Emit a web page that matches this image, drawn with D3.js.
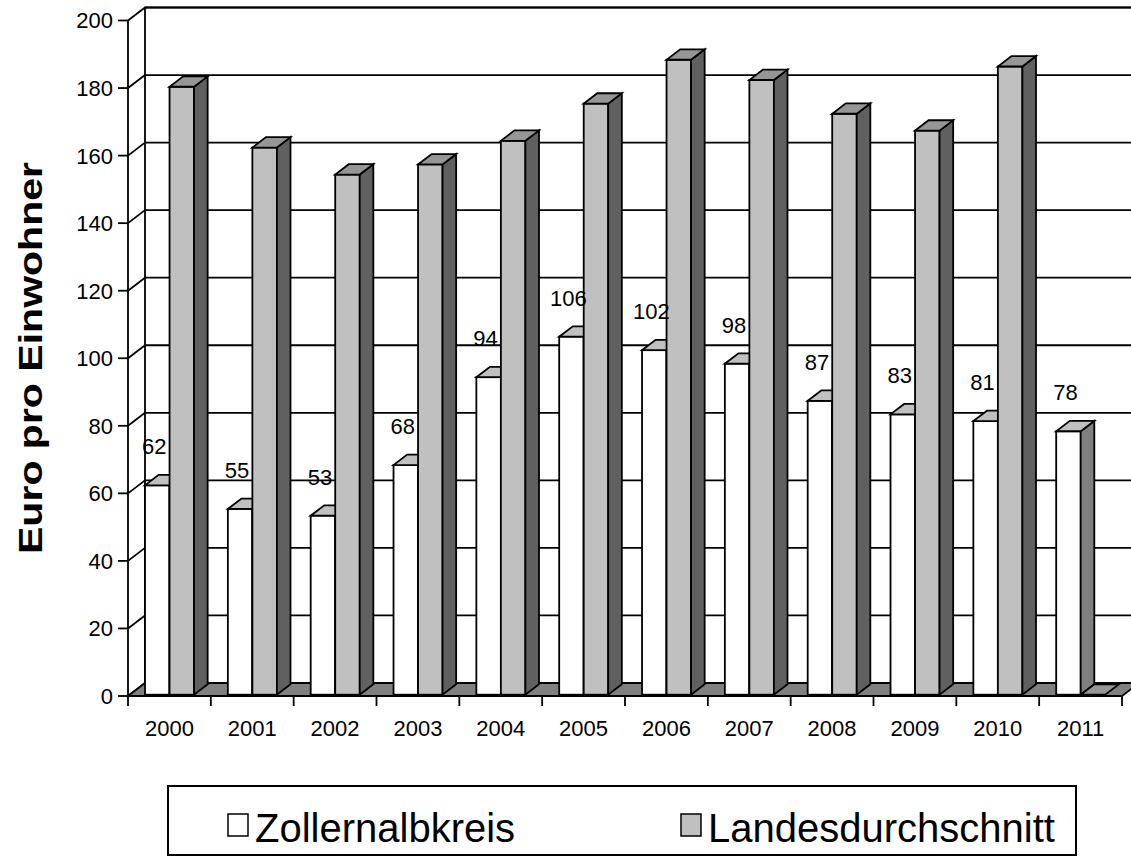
<!DOCTYPE html>
<html>
<head>
<meta charset="utf-8">
<script src="https://cdn.jsdelivr.net/npm/d3@7"></script>
<style>
  body { margin: 0; background: #fff; }
  text { font-family: "Liberation Sans", Arial, sans-serif; fill: #000; }
</style>
</head>
<body>
<svg id="chart" width="1131" height="856"></svg>
<script>
const years = ["2000", "2001", "2002", "2003", "2004", "2005", "2006", "2007", "2008", "2009", "2010", "2011"];
const zollernalb = [62, 55, 53, 68, 94, 106, 102, 98, 87, 83, 81, 78];
const landes = [180, 162, 154, 157, 164, 175, 188, 182, 172, 167, 186, 0];
const yTicks = [0, 20, 40, 60, 80, 100, 120, 140, 160, 180, 200];
const seriesNames = ["Zollernalbkreis", "Landesdurchschnitt"];

const svg = d3.select("#chart");

const depth = { dx: 17, dy: -13 };
const x = d3.scaleBand().domain(years).range([128, 1122]);
const y = d3.scaleLinear().domain([0, 200]).range([696, 20.5]);
const bw = x.bandwidth();

const colors = [
  { front: "#ffffff", top: "#c0c0c0", side: "#808080" },
  { front: "#c0c0c0", top: "#969696", side: "#606060" }
];

const x0 = x.range()[0], x1 = x.range()[1];

// back wall and gridlines
const wall = svg.append("g").attr("stroke", "#000").attr("stroke-width", 1.8).attr("fill", "none");
wall.append("rect")
  .attr("x", x0 + depth.dx).attr("y", y(200) + depth.dy)
  .attr("width", x1 - x0).attr("height", y(0) - y(200))
  .attr("fill", "#fff");

wall.selectAll("line.grid").data(yTicks.filter(t => t > 0)).enter().append("line")
  .attr("x1", x0 + depth.dx).attr("x2", x1 + depth.dx)
  .attr("y1", d => y(d) + depth.dy).attr("y2", d => y(d) + depth.dy);

wall.selectAll("line.side").data(yTicks).enter().append("line")
  .attr("x1", x0).attr("x2", x0 + depth.dx)
  .attr("y1", d => y(d)).attr("y2", d => y(d) + depth.dy);

// floor
svg.append("path")
  .attr("d", `M${x0},${y(0)}L${x1},${y(0)}L${x1 + depth.dx},${y(0) + depth.dy}L${x0 + depth.dx},${y(0) + depth.dy}Z`)
  .attr("fill", "#808080").attr("stroke", "#000").attr("stroke-width", 1.8);

// bars
const barW = bw * 0.296;
const barStart = bw * 0.185;
const f0 = 0.1, f1 = 0.9;

const bars = [];
years.forEach((yr, i) => {
  [zollernalb[i], landes[i]].forEach((v, s) => {
    const xl = x(yr) + barStart + s * barW + depth.dx * f0;
    const xr = xl + barW;
    const yb = y(0) + depth.dy * f0;
    const yt = y(v) + depth.dy * f0;
    bars.push({ xl, xr, yb, yt, v, s });
  });
});

const ddx = depth.dx * (f1 - f0), ddy = depth.dy * (f1 - f0);

svg.append("g")
  .selectAll("g").data(bars).enter().append("g")
  .attr("stroke", "#000").attr("stroke-width", 1.8).attr("stroke-linejoin", "miter")
  .each((b, i, nodes) => {
    const g = d3.select(nodes[i]);
    const c = colors[b.s];
    if (b.yb - b.yt > 0) {
      g.append("rect")
        .attr("x", b.xl).attr("y", b.yt)
        .attr("width", b.xr - b.xl).attr("height", b.yb - b.yt)
        .attr("fill", c.front);
      g.append("path")
        .attr("d", `M${b.xr},${b.yt}L${b.xr + ddx},${b.yt + ddy}L${b.xr + ddx},${b.yb + ddy}L${b.xr},${b.yb}Z`)
        .attr("fill", c.side);
    }
    g.append("path")
      .attr("d", `M${b.xl},${b.yt}L${b.xr},${b.yt}L${b.xr + ddx},${b.yt + ddy}L${b.xl + ddx},${b.yt + ddy}Z`)
      .attr("fill", c.top);
  });

// data labels for the first series
svg.append("g")
  .selectAll("text").data(bars.filter(b => b.s === 0)).enter().append("text")
  .attr("x", b => (b.xl + b.xr) / 2 - 3)
  .attr("y", b => b.yt - 31)
  .attr("text-anchor", "middle")
  .attr("font-size", 22)
  .text(b => b.v);

// axes
const axisG = svg.append("g").attr("stroke", "#000").attr("stroke-width", 1.8);
axisG.append("line").attr("x1", x0).attr("x2", x0).attr("y1", y(200)).attr("y2", y(0));
axisG.append("line").attr("x1", x0).attr("x2", x1).attr("y1", y(0)).attr("y2", y(0));
axisG.selectAll("line.yt").data(yTicks).enter().append("line")
  .attr("x1", x0 - 10).attr("x2", x0).attr("y1", d => y(d)).attr("y2", d => y(d));
axisG.selectAll("line.xt").data(d3.range(years.length + 1)).enter().append("line")
  .attr("x1", d => x0 + d * bw).attr("x2", d => x0 + d * bw)
  .attr("y1", y(0)).attr("y2", y(0) + 10);

svg.append("g").selectAll("text").data(yTicks).enter().append("text")
  .attr("x", x0 - 15).attr("y", d => y(d)).attr("dy", "0.36em")
  .attr("text-anchor", "end").attr("font-size", 22)
  .text(d => d);

svg.append("g").selectAll("text").data(years).enter().append("text")
  .attr("x", d => x(d) + bw / 2).attr("y", 736)
  .attr("text-anchor", "middle").attr("font-size", 22)
  .text(d => d);

svg.append("text")
  .attr("transform", "translate(42,358) rotate(-90)")
  .attr("text-anchor", "middle")
  .attr("font-size", 33).attr("font-weight", "bold")
  .attr("textLength", 392).attr("lengthAdjust", "spacingAndGlyphs")
  .text("Euro pro Einwohner");

// legend
const legend = svg.append("g");
legend.append("rect")
  .attr("x", 168).attr("y", 786).attr("width", 908).attr("height", 69)
  .attr("fill", "#fff").attr("stroke", "#000").attr("stroke-width", 2);

const legendX = [228, 681];
seriesNames.forEach((name, i) => {
  legend.append("rect")
    .attr("x", legendX[i]).attr("y", 814).attr("width", 20).attr("height", 22)
    .attr("fill", colors[i].front).attr("stroke", "#000").attr("stroke-width", 1.5);
  legend.append("text")
    .attr("x", legendX[i] + 27).attr("y", 842)
    .attr("font-size", 40)
    .text(name);
});
</script>
</body>
</html>
